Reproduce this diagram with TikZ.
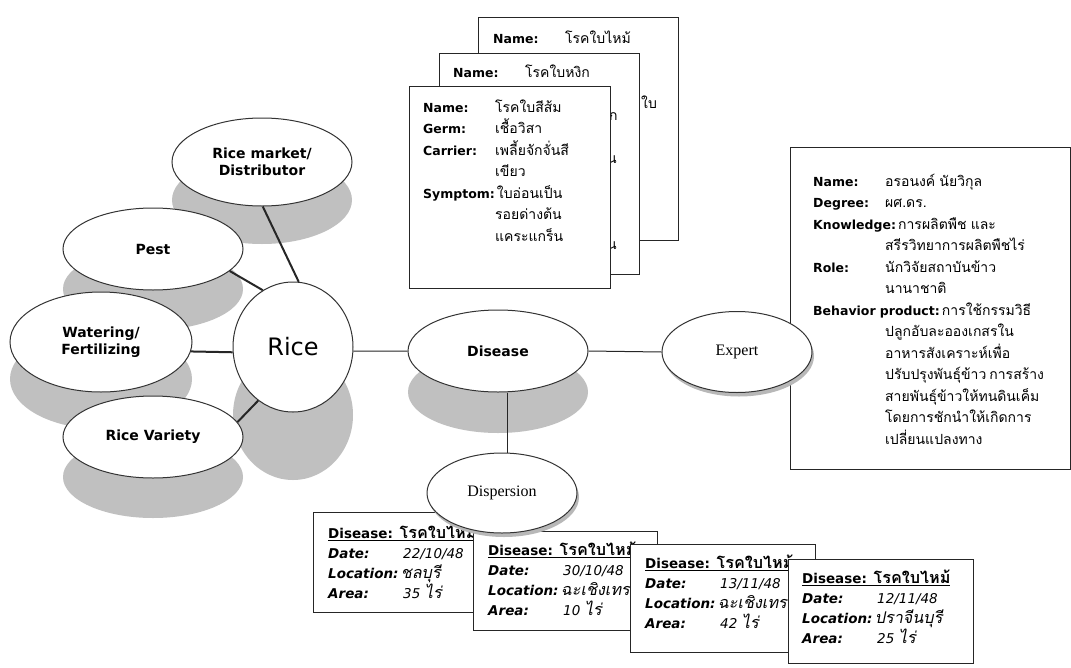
\documentclass[tikz,border=0pt]{standalone}
\usepackage{fontspec}
\usetikzlibrary{shapes.geometric}
\setmainfont{DejaVu Sans}
\newfontfamily\thai[Script=Thai,Scale=1.12]{Loma}
\newfontfamily\thaisl[Script=Thai,FakeSlant=0.2,Scale=1.2]{Loma}
\newfontfamily\thaib[Script=Thai,Scale=1.2]{Loma}
\newfontfamily\tms{Liberation Serif}
\definecolor{shadegray}{HTML}{C0C0C0}
\newcommand\lb[1]{\makebox[72pt][l]{\bfseries #1}}
\newcommand\ind{\hspace*{72pt}}
\newcommand\tht[1]{{\thai #1}}
\newcommand\blb[1]{\makebox[75pt][l]{\bfseries\itshape #1}}
\newcommand\uln[1]{\setbox0\hbox{#1}\rlap{\rule[-3pt]{\wd0}{1.4pt}}\box0}
\tikzset{
  ell/.style={ellipse, draw=black!80, line width=1pt, fill=white, inner sep=0pt, align=center},
  lab/.style={font=\fontsize{14}{17}\selectfont\bfseries},
  shade/.style={fill=shadegray, draw=none},
  softshade/.style={fill=black!28, draw=none},
  card/.style={draw=black!85, line width=1.1pt, fill=white, inner sep=0pt, anchor=north west},
  cardtxt/.style={anchor=base west, inner sep=0pt, text width=250pt, align=left,
     font=\fontsize{12.5}{21.5}\selectfont},
  smtxt/.style={anchor=base west, inner sep=0pt, text width=220pt, align=left,
     font=\fontsize{13.5}{20}\selectfont},
  thickcon/.style={line width=2pt, draw=black!85},
  thincon/.style={line width=1pt, draw=black!85}
}
\begin{document}
\begin{tikzpicture}[x=1pt,y=-1pt]
\useasboundingbox (0,0) rectangle (1071,667);
\fill[white] (0,0) rectangle (1071,667);
% shadows
\fill[shade] (262,200) ellipse (90 and 44);
\fill[shade] (153,289) ellipse (90 and 41);
\fill[shade] (101,379) ellipse (91 and 50);
\fill[shade] (293,415) ellipse (60 and 65);
\fill[shade] (153,477) ellipse (90 and 41);
\fill[shade] (498,392) ellipse (90 and 41);

% top disease cards
\node[card, minimum width=200pt, minimum height=223pt] (dc3) at (478,17) {};
\node[cardtxt] (dt3) at (493,43) {\lb{Name:}\tht{โรคใบไหม้}};
\node[cardtxt, text width=40pt] (df3) at (641,108) {\tht{ใบ}};
\node[card, minimum width=200pt, minimum height=221pt] (dc2) at (439,53) {};
\node[cardtxt] (dt2) at (453,77) {\lb{Name:}\tht{โรคใบหงิก}};
\node[cardtxt, text width=20pt] (df2a) at (609,120) {\tht{ก}};
\node[cardtxt, text width=20pt] (df2b) at (607,163) {\tht{น}};
\node[cardtxt, text width=20pt] (df2c) at (607,249) {\tht{น}};
\node[card, minimum width=201pt, minimum height=202pt] (dc1) at (409,86) {};
\node[cardtxt] (dt1) at (423,112) {\lb{Name:}\tht{โรคใบสีส้ม}\\
  \lb{Germ:}\tht{เชื้อวิสา}\\
  \lb{Carrier:}\tht{เพลี้ยจักจั่นสี}\\
  \ind\tht{เขียว}\\
  {\bfseries Symptom:}\,\tht{ใบอ่อนเป็น}\\
  \ind\tht{รอยด่างต้น}\\
  \ind\tht{แคระแกร็น}};

% expert box
\node[card, minimum width=280pt, minimum height=322pt] (eb) at (790,147) {};
\node[cardtxt] (et) at (813,186) {\lb{Name:}\tht{อรอนงค์ นัยวิกุล}\\
  \lb{Degree:}\tht{ผศ.ดร.}\\
  {\bfseries Knowledge:}\,\tht{การผลิตพืช และ}\\
  \ind\tht{สรีรวิทยาการผลิตพืชไร่}\\
  \lb{Role:}\tht{นักวิจัยสถาบันข้าว}\\
  \ind\tht{นานาชาติ}\\
  {\bfseries Behavior product:}\,\tht{การใช้กรรมวิธี}\\
  \ind\tht{ปลูกอับละอองเกสรใน}\\
  \ind\tht{อาหารสังเคราะห์เพื่อ}\\
  \ind\tht{ปรับปรุงพันธุ์ข้าว\hspace{3pt}การสร้าง}\\
  \ind\tht{สายพันธุ์ข้าวให้ทนดินเค็ม}\\
  \ind\tht{โดยการชักนำให้เกิดการ}\\
  \ind\tht{เปลี่ยนแปลงทาง}};

% bottom dispersion cards
\node[card, minimum width=185pt, minimum height=100pt] (b1) at (313,512) {};
\node[smtxt] (bt1) at (328,538) {\uln{\bfseries Disease: {\thaib\bfseries โรคใบไหม้}}\\
  \blb{Date:}{\itshape 22/10/48}\\
  {\bfseries\itshape Location:}\,{\thaisl ชลบุรี}\\
  \blb{Area:}{\itshape 35 }{\thaisl ไร่}};
\node[card, minimum width=184pt, minimum height=99pt] (b2) at (473,531) {};
\node[smtxt] (bt2) at (488,555) {\uln{\bfseries Disease: {\thaib\bfseries โรคใบไหม้}}\\
  \blb{Date:}{\itshape 30/10/48}\\
  {\bfseries\itshape Location:}\,{\thaisl ฉะเชิงเทรา}\\
  \blb{Area:}{\itshape 10 }{\thaisl ไร่}};
\node[card, minimum width=185pt, minimum height=108pt] (b3) at (630,544) {};
\node[smtxt] (bt3) at (645,568) {\uln{\bfseries Disease: {\thaib\bfseries โรคใบไหม้}}\\
  \blb{Date:}{\itshape 13/11/48}\\
  {\bfseries\itshape Location:}\,{\thaisl ฉะเชิงเทรา}\\
  \blb{Area:}{\itshape 42 }{\thaisl ไร่}};
\node[card, minimum width=185pt, minimum height=104pt] (b4) at (788,559) {};
\node[smtxt] (bt4) at (802,583) {\uln{\bfseries Disease: {\thaib\bfseries โรคใบไหม้}}\\
  \blb{Date:}{\itshape 12/11/48}\\
  {\bfseries\itshape Location:}\,{\thaisl ปราจีนบุรี}\\
  \blb{Area:}{\itshape 25 }{\thaisl ไร่}};

% small soft shadows
\fill[softshade] (739,356) ellipse (75 and 40.5);
\fill[softshade] (504,497) ellipse (75 and 40);

% ellipses
\node[ell, lab, minimum width=180pt, minimum height=88pt] (rm) at (262,162) {Rice market/\\Distributor};
\node[ell, lab, minimum width=180pt, minimum height=82pt] (pest) at (153,249) {Pest};
\node[ell, lab, minimum width=182pt, minimum height=100pt] (water) at (101,342) {Watering/\\Fertilizing};
\node[ell, lab, minimum width=180pt, minimum height=82pt] (rv) at (153,437) {Rice Variety};
\node[ell, minimum width=120pt, minimum height=130pt, font=\fontsize{24}{28}\selectfont] (rice) at (293,347) {Rice};
\node[ell, lab, minimum width=180pt, minimum height=82pt] (disease) at (498,351) {Disease};
\node[ell, minimum width=150pt, minimum height=81pt, font=\tms\fontsize{16}{18}\selectfont] (expert) at (737,352) {Expert};
\node[ell, minimum width=150pt, minimum height=80pt, font=\tms\fontsize{16}{18}\selectfont] (disp) at (502,493) {Dispersion};

% connectors
\draw[thickcon] (rm.-89) -- (rice.85);
\draw[thickcon] (pest.-16) -- (rice.118);
\draw[thickcon] (water.-6) -- (rice.185);
\draw[thickcon] (rv.10) -- (rice.237);
\draw[thincon] (rice.-4) -- (disease.west);
\draw[thincon] (disease.east) -- (expert.west);
\draw[thincon] ([xshift=9pt]disease.south) -- ([xshift=5pt]disp.north);
\end{tikzpicture}
\end{document}
